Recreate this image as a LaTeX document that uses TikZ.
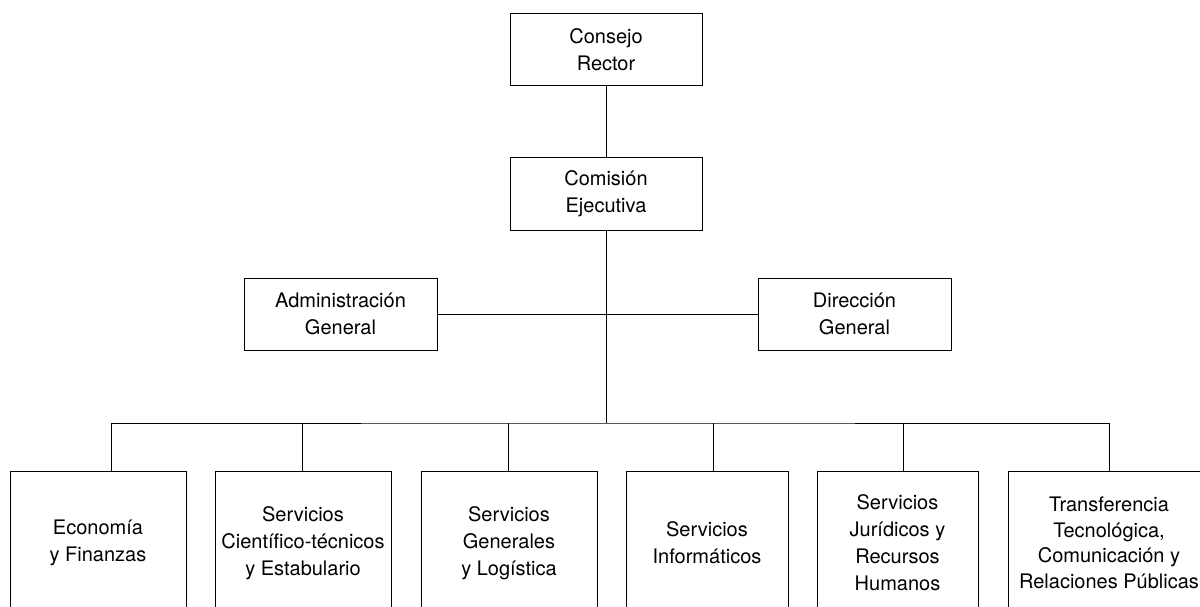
\documentclass[tikz,border=0pt]{standalone}
\usepackage{fontspec}
\setmainfont{TeX Gyre Heros}
\newcommand{\reports}[2]{\draw (#1) -- (#2)}
\newcommand{\unitlink}[2]{\draw (#1.north) ++(#2,0) coordinate (t#1) -- (t#1 |- bus)}

\begin{document}
\begin{tikzpicture}[x=1pt, y=-1pt, line width=1pt,
                    office/.style={
                        draw,
                        align=center,
                        inner sep=0pt,
                        minimum width=193pt,
                        minimum height=72pt,
                        font=\fontsize{20}{27}\selectfont
                    },
                    unit/.style={
                        office,
                        minimum width=176pt,
                        minimum height=144pt
                    }]
    \useasboundingbox (0,0) rectangle (1200,607);

    \node[office, minimum width=192pt] (cr) at (606,50) {Consejo\\Rector};
    \node[office, minimum width=192pt] (ce) at (606,194) {Comisión\\Ejecutiva};
    \node[office] (ag) at (340.5,314) {Administración\\General};
    \node[office] (dg) at (854.5,314) {Dirección\\General};
    \coordinate (bus) at (606,423);

    \node[unit] (e1) at (98,543) {Economía\\y Finanzas};
    \node[unit] (e2) at (303,543) {Servicios\\Científico-técnicos\\y Estabulario};
    \node[unit] (e3) at (509,543) {Servicios\\Generales\\y Logística};
    \node[unit, minimum width=162pt] (e4) at (707,543) {Servicios\\Informáticos};
    \node[unit, minimum width=161pt] (e5) at (897.5,543) {Servicios\\Jurídicos y\\Recursos\\Humanos};
    \node[unit, minimum width=202pt, font=\fontsize{20}{25.5}\selectfont] (e6) at (1109,543)
        {Transferencia\\Tecnológica,\\Comunicación y\\Relaciones Públicas};

    \reports{cr}{ce};
    \reports{ce}{bus};
    \reports{ag}{dg};

    \unitlink{e1}{13};
    \unitlink{e2}{-1};
    \unitlink{e3}{-1};
    \unitlink{e4}{6};
    \unitlink{e5}{5.5};
    \unitlink{e6}{0};
    \draw (te1) |- (bus) -| (te6);
\end{tikzpicture}
\end{document}
